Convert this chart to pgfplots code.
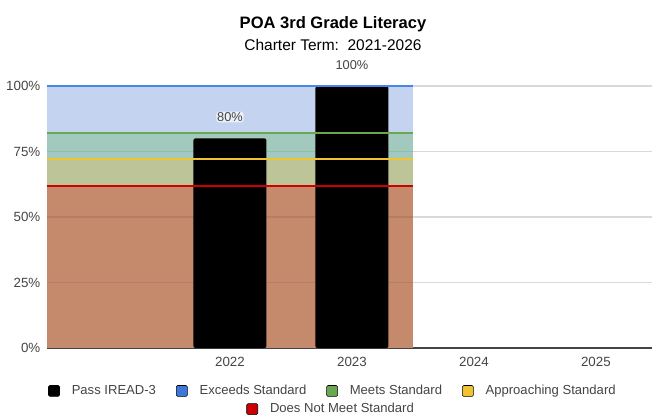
\documentclass[border=0pt]{standalone}
\usepackage{fontspec}
\setmainfont{Liberation Sans}
\usepackage{pgfplots}
\pgfplotsset{compat=1.18}
\definecolor{areared}{HTML}{C5896B}
\definecolor{areayellow}{HTML}{BDC497}
\definecolor{areagreen}{HTML}{A2C9BD}
\definecolor{areablue}{HTML}{C3D3F0}
\definecolor{lineblue}{HTML}{4A86E8}
\definecolor{legblue}{HTML}{3C78D8}
\definecolor{linegreen}{HTML}{6AA84F}
\definecolor{lineyellow}{HTML}{F1C232}
\definecolor{linered}{HTML}{CC0000}
\definecolor{txtgray}{HTML}{444444}

\pgfplotsset{
  sqlegend/.style={
    legend image code/.code={\fill[##1, rounded corners=1pt] (0pt,-4.1pt) rectangle (8.25pt,4.1pt);},
    legend style={draw=none, fill=none, font=\fontsize{9.8}{11}\selectfont, text=txtgray,
      nodes={inner sep=0pt, anchor=west},
      /tikz/every odd column/.append style={column sep=9pt},
      /tikz/every even column/.append style={column sep=15pt}}
  },
  base/.style={
    width=453.75pt, height=196.5pt, scale only axis,
    at={(0,0)}, anchor=south west,
    xmin=-0.5, xmax=4.46, ymin=0, ymax=100,
  },
  bandline/.style={line width=1.5pt, forget plot, no marks},
  bandfill/.style={draw=none, forget plot}
}

\begin{document}
\begin{tikzpicture}
\useasboundingbox (-35.25pt,-50.25pt) rectangle (453.75pt,261pt);
\begin{axis}[
  base, sqlegend,
  clip=false,
  /pgf/number format/assume math mode=true,
  axis x line*=bottom, axis y line*=left,
  y axis line style={draw=none},
  x axis line style={draw=txtgray, line width=1pt},
  major tick length=0pt,
  ytick={0,25,50,75,100},
  yticklabel={\pgfmathprintnumber{\tick}\%},
  xtick={1,2,3,4},
  xticklabels={2022,2023,2024,2025},
  tick label style={font=\fontsize{10}{12}\selectfont, text=txtgray},
  yticklabel style={xshift=-1.5pt},
  xticklabel style={yshift=-3pt},
  ymajorgrids, grid style={draw=black!15, line width=0.8pt},
  legend columns=4,
  legend style={at={(0.471,-0.164)}, anchor=center},
]
% reference bands (stepped areas)
\addplot[bandfill, fill=areablue] coordinates {(-0.5,100) (2.5,100)} \closedcycle;
\addplot[bandfill, fill=areagreen] coordinates {(-0.5,82) (2.5,82)} \closedcycle;
\addplot[bandfill, fill=areayellow] coordinates {(-0.5,72) (2.5,72)} \closedcycle;
\addplot[bandfill, fill=areared] coordinates {(-0.5,62) (2.5,62)} \closedcycle;
% grid showing faintly through the bands
\foreach \g in {25,50,75}{
  \edef\tmp{\noexpand\draw[black, opacity=0.08, line width=0.8pt] (axis cs:-0.5,\g) -- (axis cs:2.5,\g);}\tmp
}
% Pass IREAD-3
\addplot[ybar, bar width=54.75pt, bar shift=0pt, fill=black, draw=none, forget plot,
  rounded corners=1.5pt,
  nodes near coords={\pgfmathprintnumber{\pgfplotspointmeta}\%},
  every node near coord/.append style={anchor=center, yshift=16pt, text=txtgray,
    font=\fontsize{9.6}{11}\selectfont, fill=white, fill opacity=0.7, text opacity=1,
    rounded corners=2pt, inner sep=0.6pt}]
  coordinates {(1,80) (2,100)};
% band lines
\addplot[bandline, color=lineblue] coordinates {(-0.5,100) (2.5,100)};
\addplot[bandline, color=linegreen] coordinates {(-0.5,82) (2.5,82)};
\addplot[bandline, color=lineyellow] coordinates {(-0.5,72) (2.5,72)};
\addplot[bandline, color=linered] coordinates {(-0.5,62) (2.5,62)};
\addlegendimage{fill=black}
\addlegendentry{Pass IREAD-3}
\addlegendimage{fill=legblue}
\addlegendentry{Exceeds Standard}
\addlegendimage{fill=linegreen}
\addlegendentry{Meets Standard}
\addlegendimage{fill=lineyellow}
\addlegendentry{Approaching Standard}
\end{axis}
\begin{axis}[base, sqlegend, hide axis, legend style={at={(0.468,-0.233)}, anchor=center}]
\addlegendimage{fill=linered}
\addlegendentry{Does Not Meet Standard}
\end{axis}
\node[anchor=base, font=\fontsize{12.4}{14}\selectfont\bfseries] at (214.5pt,240pt) {POA 3rd Grade Literacy};
\node[anchor=base, font=\fontsize{11.6}{14}\selectfont] at (214.5pt,223.5pt) {Charter Term:\ \ 2021-2026};
\end{tikzpicture}
\end{document}
